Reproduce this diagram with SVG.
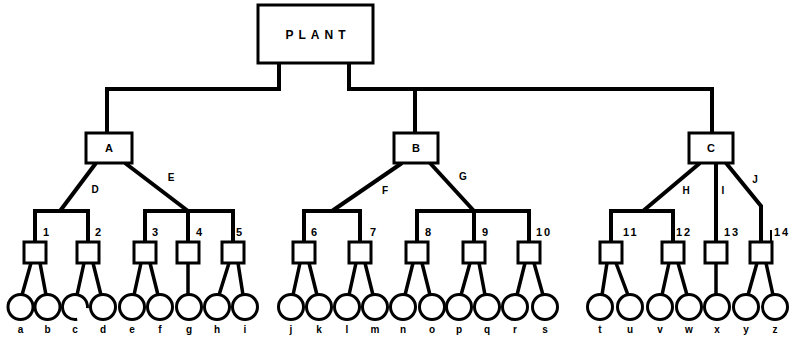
<svg xmlns="http://www.w3.org/2000/svg" width="798" height="338" viewBox="0 0 798 338">
<style>
.bg{fill:#fff}
.box{fill:#fff;stroke:#000;stroke-width:3}
.leaf{fill:#fff;stroke:#000;stroke-width:3}
.open{fill:none;stroke:#000;stroke-width:3}
.con{fill:none;stroke:#000;stroke-width:4;stroke-linejoin:miter}
.leg{fill:none;stroke:#000;stroke-width:3.5}
.t{font-family:"Liberation Sans",Arial,sans-serif;font-weight:bold;fill:#000}
.main{font-size:12px;letter-spacing:5px}
.mid{font-size:11px}
.sm{font-size:10px}
.num{font-size:11px;letter-spacing:2px}
</style>
<rect class="bg" x="0" y="0" width="798" height="338"/>
<g id="connectors">
<path class="con" d="M279,63 V89 H107 V133"/>
<path class="con" d="M349,63 V89 H712 V133"/>
<path class="con" d="M415,89 V133"/>
<path class="con" d="M96,163 L60,211"/>
<path class="con" d="M35,242 V211 H88 V242"/>
<path class="con" d="M125,163 L188,211"/>
<path class="con" d="M145,242 V211 H233 V242"/>
<path class="con" d="M188,211 V242"/>
<path class="con" d="M402,163 L332,211"/>
<path class="con" d="M304,242 V211 H360 V242"/>
<path class="con" d="M430,163 L474,211"/>
<path class="con" d="M417,242 V211 H529 V242"/>
<path class="con" d="M474,211 V242"/>
<path class="con" d="M700,163 L643,211"/>
<path class="con" d="M611,242 V211 H673 V242"/>
<path class="con" d="M716,163 V242"/>
<path class="con" d="M726,163 L761,206 V242"/>
<path class="leg" d="M771,230 V242" style="stroke-width:2"/>
<path class="leg" d="M31,263 L22,295 M40,263 L46,295"/>
<path class="leg" d="M84,263 L77,295 M93,263 L101,295"/>
<path class="leg" d="M141,263 L134,295 M150,263 L158,295"/>
<path class="leg" d="M188,263 V294"/>
<path class="leg" d="M229,263 L219,295 M238,263 L243,295"/>
<path class="leg" d="M300,263 L293,295 M309,263 L317,295"/>
<path class="leg" d="M356,263 L349,295 M365,263 L373,295"/>
<path class="leg" d="M413,263 L405,295 M422,263 L430,295"/>
<path class="leg" d="M470,263 L461,295 M479,263 L485,295"/>
<path class="leg" d="M525,263 L517,295 M534,263 L543,295"/>
<path class="leg" d="M607,263 L602,295 M616,263 L628,295"/>
<path class="leg" d="M669,263 L662,295 M678,263 L687,295"/>
<path class="leg" d="M716,263 V294"/>
<path class="leg" d="M757,263 L748,295 M766,263 L773,295"/>
<text class="t sm" x="95" y="193" text-anchor="middle">D</text>
<text class="t sm" x="171" y="181" text-anchor="middle">E</text>
<text class="t sm" x="385" y="194" text-anchor="middle">F</text>
<text class="t sm" x="463" y="180" text-anchor="middle">G</text>
<text class="t sm" x="686" y="194" text-anchor="middle">H</text>
<text class="t sm" x="723" y="194" text-anchor="middle">I</text>
<text class="t sm" x="755" y="183" text-anchor="middle">J</text>
</g>
<g id="node-plant"><rect class="box" x="258" y="5" width="115" height="58"/><text class="t main" x="318" y="39" text-anchor="middle">PLANT</text></g>
<g id="node-A"><rect class="box" x="86" y="133" width="46" height="30"/><text class="t mid" x="109" y="152" text-anchor="middle">A</text></g>
<g id="node-B"><rect class="box" x="394" y="133" width="44" height="30"/><text class="t mid" x="416" y="152" text-anchor="middle">B</text></g>
<g id="node-C"><rect class="box" x="689" y="133" width="44" height="30"/><text class="t mid" x="711" y="152" text-anchor="middle">C</text></g>
<g id="node-1"><rect class="box" x="24" y="242" width="22" height="21"/><text class="t num" x="43" y="236">1</text></g>
<g id="node-2"><rect class="box" x="77" y="242" width="22" height="21"/><text class="t num" x="95" y="236">2</text></g>
<g id="node-3"><rect class="box" x="134" y="242" width="22" height="21"/><text class="t num" x="152" y="236">3</text></g>
<g id="node-4"><rect class="box" x="177" y="242" width="22" height="21"/><text class="t num" x="196" y="236">4</text></g>
<g id="node-5"><rect class="box" x="222" y="242" width="22" height="21"/><text class="t num" x="236" y="236">5</text></g>
<g id="node-6"><rect class="box" x="293" y="242" width="22" height="21"/><text class="t num" x="311" y="236">6</text></g>
<g id="node-7"><rect class="box" x="349" y="242" width="22" height="21"/><text class="t num" x="370" y="236">7</text></g>
<g id="node-8"><rect class="box" x="406" y="242" width="22" height="21"/><text class="t num" x="425" y="236">8</text></g>
<g id="node-9"><rect class="box" x="463" y="242" width="22" height="21"/><text class="t num" x="482" y="236">9</text></g>
<g id="node-10"><rect class="box" x="518" y="242" width="22" height="21"/><text class="t num" x="536" y="236">10</text></g>
<g id="node-11"><rect class="box" x="600" y="242" width="22" height="21"/><text class="t num" x="623" y="236">11</text></g>
<g id="node-12"><rect class="box" x="662" y="242" width="22" height="21"/><text class="t num" x="676" y="236">12</text></g>
<g id="node-13"><rect class="box" x="705" y="242" width="22" height="21"/><text class="t num" x="724" y="236">13</text></g>
<g id="node-14"><rect class="box" x="750" y="242" width="22" height="21"/><text class="t num" x="774" y="236">14</text></g>
<g id="leaf-a"><circle class="leaf" cx="20.5" cy="307" r="12.5"/><text class="t sm" x="20.5" y="333" text-anchor="middle">a</text></g>
<g id="leaf-b"><circle class="leaf" cx="47.5" cy="307" r="12.5"/><text class="t sm" x="47.5" y="333" text-anchor="middle">b</text></g>
<g id="leaf-c"><path class="open" d="M87.45,308.1 A12.5,12.5 0 1 0 77.2,319.3"/><text class="t sm" x="75" y="333" text-anchor="middle">c</text></g>
<g id="leaf-d"><circle class="leaf" cx="103" cy="307" r="12.5"/><text class="t sm" x="103" y="333" text-anchor="middle">d</text></g>
<g id="leaf-e"><circle class="leaf" cx="132" cy="307" r="12.5"/><text class="t sm" x="132" y="333" text-anchor="middle">e</text></g>
<g id="leaf-f"><circle class="leaf" cx="160" cy="307" r="12.5"/><text class="t sm" x="160" y="333" text-anchor="middle">f</text></g>
<g id="leaf-g"><circle class="leaf" cx="189" cy="307" r="12.5"/><text class="t sm" x="189" y="333" text-anchor="middle">g</text></g>
<g id="leaf-h"><circle class="leaf" cx="217" cy="307" r="12.5"/><text class="t sm" x="217" y="333" text-anchor="middle">h</text></g>
<g id="leaf-i"><circle class="leaf" cx="245" cy="307" r="12.5"/><text class="t sm" x="245" y="333" text-anchor="middle">i</text></g>
<g id="leaf-j"><circle class="leaf" cx="291" cy="307" r="12.5"/><text class="t sm" x="291" y="333" text-anchor="middle">j</text></g>
<g id="leaf-k"><circle class="leaf" cx="319" cy="307" r="12.5"/><text class="t sm" x="319" y="333" text-anchor="middle">k</text></g>
<g id="leaf-l"><circle class="leaf" cx="347" cy="307" r="12.5"/><text class="t sm" x="347" y="333" text-anchor="middle">l</text></g>
<g id="leaf-m"><circle class="leaf" cx="375" cy="307" r="12.5"/><text class="t sm" x="375" y="333" text-anchor="middle">m</text></g>
<g id="leaf-n"><circle class="leaf" cx="403" cy="307" r="12.5"/><text class="t sm" x="403" y="333" text-anchor="middle">n</text></g>
<g id="leaf-o"><circle class="leaf" cx="432" cy="307" r="12.5"/><text class="t sm" x="432" y="333" text-anchor="middle">o</text></g>
<g id="leaf-p"><circle class="leaf" cx="459" cy="307" r="12.5"/><text class="t sm" x="459" y="333" text-anchor="middle">p</text></g>
<g id="leaf-q"><circle class="leaf" cx="487" cy="307" r="12.5"/><text class="t sm" x="487" y="333" text-anchor="middle">q</text></g>
<g id="leaf-r"><circle class="leaf" cx="515" cy="307" r="12.5"/><text class="t sm" x="515" y="333" text-anchor="middle">r</text></g>
<g id="leaf-s"><circle class="leaf" cx="545" cy="307" r="12.5"/><text class="t sm" x="545" y="333" text-anchor="middle">s</text></g>
<g id="leaf-t"><circle class="leaf" cx="600" cy="307" r="12.5"/><text class="t sm" x="600" y="333" text-anchor="middle">t</text></g>
<g id="leaf-u"><circle class="leaf" cx="630" cy="307" r="12.5"/><text class="t sm" x="630" y="333" text-anchor="middle">u</text></g>
<g id="leaf-v"><circle class="leaf" cx="660" cy="307" r="12.5"/><text class="t sm" x="660" y="333" text-anchor="middle">v</text></g>
<g id="leaf-w"><circle class="leaf" cx="689" cy="307" r="12.5"/><text class="t sm" x="689" y="333" text-anchor="middle">w</text></g>
<g id="leaf-x"><circle class="leaf" cx="717" cy="307" r="12.5"/><text class="t sm" x="717" y="333" text-anchor="middle">x</text></g>
<g id="leaf-y"><circle class="leaf" cx="746" cy="307" r="12.5"/><text class="t sm" x="746" y="333" text-anchor="middle">y</text></g>
<g id="leaf-z"><circle class="leaf" cx="775" cy="307" r="12.5"/><text class="t sm" x="775" y="333" text-anchor="middle">z</text></g>
</svg>
